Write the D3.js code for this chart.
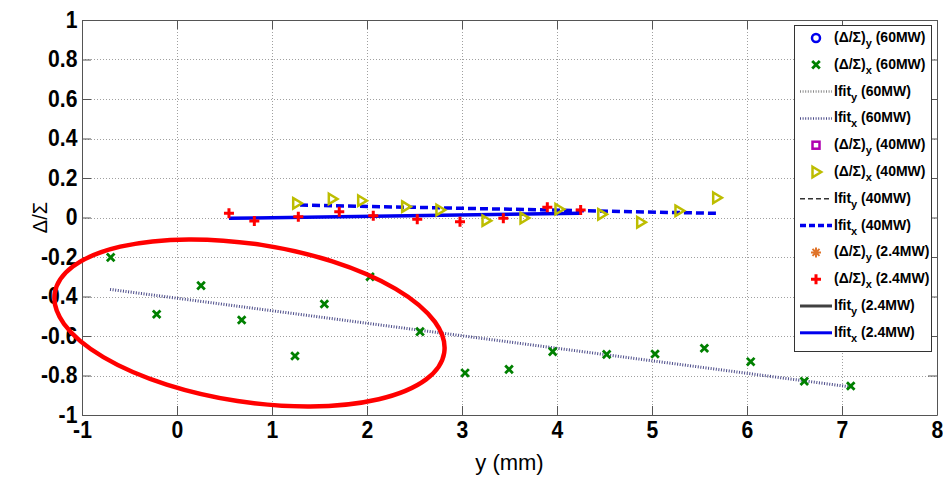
<!DOCTYPE html>
<html>
<head>
<meta charset="utf-8">
<script src="https://cdn.jsdelivr.net/npm/d3@7"></script>
<style>
  body { margin: 0; background: #fff; }
  svg { display: block; font-family: "Liberation Sans", Arial, sans-serif; }
</style>
</head>
<body>
<script>
// axis ticks
const xTicks = [-1, 0, 1, 2, 3, 4, 5, 6, 7, 8];
const yTicks = [-1, -0.8, -0.6, -0.4, -0.2, 0, 0.2, 0.4, 0.6, 0.8, 1];

// (Δ/Σ)x 60MW
const pos60 = [-0.698, -0.214, 0.253, 0.681, 1.242, 1.551, 2.032, 2.558, 3.032, 3.495, 3.955, 4.523, 5.032, 5.551, 6.039, 6.603, 7.092];
const dev60 = [-0.202, -0.490, -0.345, -0.519, -0.701, -0.438, -0.300, -0.578, -0.787, -0.769, -0.679, -0.693, -0.691, -0.662, -0.730, -0.829, -0.853];
const fit60 = [[-0.705, -0.364], [7.092, -0.858]];

// (Δ/Σ)x 40MW
const pos40 = [1.260, 1.635, 1.944, 2.407, 2.768, 3.253, 3.653, 4.021, 4.471, 4.881, 5.284, 5.681];
const dev40 = [0.072, 0.094, 0.085, 0.055, 0.038, -0.016, -0.003, 0.042, 0.016, -0.024, 0.034, 0.100];
const fit40 = [[1.295, 0.063], [5.681, 0.021]];

// (Δ/Σ)x 2.4MW
const pos24 = [0.547, 0.814, 1.277, 1.708, 2.066, 2.529, 2.979, 3.435, 3.898, 4.249];
const dev24 = [0.021, -0.018, 0.004, 0.029, 0.009, -0.009, -0.021, -0.004, 0.052, 0.038];
const fit24 = [[0.547, -0.004], [4.249, 0.021]];

// annotation ellipse centre (data units)
const ringCentre = [0.763, -0.534];

// legend entries
const legendBase = ["(Δ/Σ)", "(Δ/Σ)", "lfit", "lfit", "(Δ/Σ)", "(Δ/Σ)", "lfit", "lfit", "(Δ/Σ)", "(Δ/Σ)", "lfit", "lfit"];
const legendSub  = ["y", "x", "y", "x", "y", "x", "y", "x", "y", "x", "y", "x"];
const legendTail = [" (60MW)", " (60MW)", " (60MW)", " (60MW)", " (40MW)", " (40MW)", " (40MW)", " (40MW)", " (2.4MW)", " (2.4MW)", " (2.4MW)", " (2.4MW)"];

const W = 943, H = 477;
const x = d3.scaleLinear().domain([-1, 8]).range([82, 937]);
const y = d3.scaleLinear().domain([-1, 1]).range([415, 20]);

const C = {
  blue: "#0000ee", green: "#008000", grey: "#8a8a8a", navy: "#4a4a88",
  magenta: "#b000b0", olive: "#bdbd00", dark: "#333", orange: "#e0742a", red: "#ff0000"
};

const fmt = d => String(+d.toFixed(1));

const svg = d3.select("body").append("svg")
  .attr("width", W).attr("height", H);

// grid
const grid = svg.append("g")
  .attr("stroke", "#a0a0a0").attr("stroke-width", 1).attr("stroke-dasharray", "1,2");
grid.selectAll("line.gx").data(xTicks.slice(1, -1)).join("line")
  .attr("x1", d => Math.round(x(d)) + 0.5).attr("x2", d => Math.round(x(d)) + 0.5)
  .attr("y1", y(1)).attr("y2", y(-1));
grid.selectAll("line.gy").data(yTicks.slice(1, -1)).join("line")
  .attr("y1", d => Math.round(y(d)) + 0.5).attr("y2", d => Math.round(y(d)) + 0.5)
  .attr("x1", x(-1)).attr("x2", x(8));

// axes (MATLAB style, ticks inside on all four sides)
function styleAxis(g, labels) {
  g.selectAll("path.domain").attr("stroke", "#555");
  g.selectAll(".tick line").attr("stroke", "#555");
  g.selectAll(".tick text")
    .attr("fill", "#000")
    .style("font-size", "23px")
    .style("font-weight", "bold")
    .style("display", labels ? null : "none");
}
svg.append("g").attr("transform", `translate(0,${y(-1)})`)
  .call(d3.axisBottom(x).tickValues(xTicks).tickSize(-9).tickSizeOuter(0).tickPadding(7).tickFormat(fmt))
  .call(g => styleAxis(g, true))
  .call(g => g.selectAll(".tick text").attr("transform", "scale(0.92,1)"));
svg.append("g").attr("transform", `translate(0,${y(1)})`)
  .call(d3.axisTop(x).tickValues(xTicks).tickSize(-9).tickSizeOuter(0))
  .call(g => styleAxis(g, false));
svg.append("g").attr("transform", `translate(${x(-1)},0)`)
  .call(d3.axisLeft(y).tickValues(yTicks).tickSize(-9).tickSizeOuter(0).tickPadding(5).tickFormat(fmt))
  .call(g => styleAxis(g, true))
  .call(g => g.selectAll(".tick text").attr("transform", "scale(0.92,1)"));
svg.append("g").attr("transform", `translate(${x(8)},0)`)
  .call(d3.axisRight(y).tickValues(yTicks).tickSize(-9).tickSizeOuter(0))
  .call(g => styleAxis(g, false));

// axis titles
svg.append("text")
  .attr("x", (x(-1) + x(8)) / 2).attr("y", 470)
  .attr("text-anchor", "middle")
  .style("font-size", "22px")
  .text("y (mm)");
svg.append("text")
  .attr("transform", `translate(47,${y(0)}) rotate(-90)`)
  .attr("text-anchor", "middle")
  .style("font-size", "20px")
  .text("Δ/Σ");

// fit lines
const line = d3.line().x(d => x(d[0])).y(d => y(d[1]));
svg.append("path").datum(fit60).attr("d", line)
  .attr("fill", "none").attr("stroke", C.navy).attr("stroke-width", 3).attr("stroke-dasharray", "1,1.6");
svg.append("path").datum(fit24).attr("d", line)
  .attr("fill", "none").attr("stroke", C.blue).attr("stroke-width", 3.5);
svg.append("path").datum(fit40).attr("d", line)
  .attr("fill", "none").attr("stroke", C.blue).attr("stroke-width", 3.5).attr("stroke-dasharray", "8,4");

// marker shapes
const shapeX    = "M-3.8,-3.8L3.8,3.8M-3.8,3.8L3.8,-3.8";
const shapePlus = "M-5,0L5,0M0,-5L0,5";
const shapeTri  = "M-3.5,-5.2L5.2,0L-3.5,5.2Z";
const shapeStar = "M-5,0L5,0M0,-5L0,5M-3.5,-3.5L3.5,3.5M-3.5,3.5L3.5,-3.5";

function markers(px, py, shape, colour, width) {
  svg.append("g").selectAll("path").data(px.map((v, i) => [v, py[i]])).join("path")
    .attr("transform", d => `translate(${x(d[0])},${y(d[1])})`)
    .attr("d", shape)
    .attr("fill", "none").attr("stroke", colour).attr("stroke-width", width);
}
markers(pos60, dev60, shapeX, C.green, 2.8);
markers(pos40, dev40, shapeTri, C.olive, 2.5);
markers(pos24, dev24, shapePlus, C.red, 3);

// red ellipse annotation
svg.append("ellipse")
  .attr("transform", `translate(${x(ringCentre[0])},${y(ringCentre[1])}) rotate(8.7)`)
  .attr("rx", 197).attr("ry", 79)
  .attr("fill", "none").attr("stroke", C.red).attr("stroke-width", 4.5);

// legend
const lg = svg.append("g");
lg.append("rect").attr("x", 794.5).attr("y", 25.5).attr("width", 137).attr("height", 326)
  .attr("fill", "#fff").attr("stroke", "#333").attr("stroke-width", 1);

const keyDraw = [
  g => g.append("circle").attr("r", 4).attr("fill", "none").attr("stroke", C.blue).attr("stroke-width", 2.5),
  g => g.append("path").attr("d", shapeX).attr("fill", "none").attr("stroke", C.green).attr("stroke-width", 2.8),
  g => g.append("line").attr("x1", -16).attr("x2", 16).attr("stroke", C.grey).attr("stroke-width", 2.5).attr("stroke-dasharray", "1,1.6"),
  g => g.append("line").attr("x1", -16).attr("x2", 16).attr("stroke", C.navy).attr("stroke-width", 2.5).attr("stroke-dasharray", "1,1.6"),
  g => g.append("rect").attr("x", -3.5).attr("y", -3.5).attr("width", 7).attr("height", 7).attr("fill", "none").attr("stroke", C.magenta).attr("stroke-width", 2.5),
  g => g.append("path").attr("d", shapeTri).attr("fill", "none").attr("stroke", C.olive).attr("stroke-width", 2.5),
  g => g.append("line").attr("x1", -16).attr("x2", 16).attr("stroke", C.dark).attr("stroke-width", 1.5).attr("stroke-dasharray", "5,3"),
  g => g.append("line").attr("x1", -16).attr("x2", 16).attr("stroke", C.blue).attr("stroke-width", 3.5).attr("stroke-dasharray", "6,3"),
  g => g.append("path").attr("d", shapeStar).attr("fill", "none").attr("stroke", C.orange).attr("stroke-width", 2),
  g => g.append("path").attr("d", shapePlus).attr("fill", "none").attr("stroke", C.red).attr("stroke-width", 3),
  g => g.append("line").attr("x1", -16).attr("x2", 16).attr("stroke", "#404040").attr("stroke-width", 3),
  g => g.append("line").attr("x1", -16).attr("x2", 16).attr("stroke", C.blue).attr("stroke-width", 3)
];

legendBase.forEach((b, i) => {
  const row = lg.append("g").attr("transform", `translate(0,${38 + i * 26.8})`);
  keyDraw[i](row.append("g").attr("transform", "translate(816,0)"));
  const t = row.append("text").attr("x", 834).attr("y", 4)
    .style("font-size", "14px").style("font-weight", "bold");
  t.append("tspan").text(b);
  t.append("tspan").attr("dy", 5).style("font-size", "11px").text(legendSub[i]);
  t.append("tspan").attr("dy", -5).text(legendTail[i]);
});
</script>
</body>
</html>
